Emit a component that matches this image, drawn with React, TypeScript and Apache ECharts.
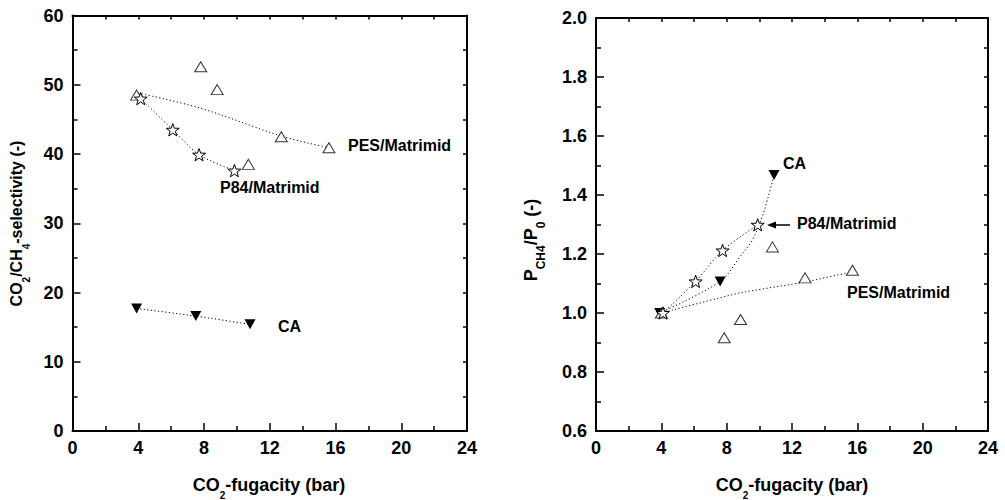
import React, { useEffect, useRef } from "react";
import * as echarts from "echarts";

// ---------- Data ----------
// Left panel: CO2/CH4 selectivity vs CO2 fugacity
const pesSelX = [3.9, 7.8, 8.8, 10.7, 12.7, 15.6];
const pesSelY = [48.5, 52.6, 49.3, 38.5, 42.5, 40.9];
const pesSelFitX = [4.0, 7.8, 12.7, 15.6];
const pesSelFitY = [48.8, 46.6, 42.6, 40.9];
const p84SelX = [4.15, 6.1, 7.7, 9.85];
const p84SelY = [48.0, 43.5, 39.9, 37.6];
const caSelX = [3.9, 7.5, 10.8];
const caSelY = [17.7, 16.6, 15.4];

// Right panel: P_CH4/P_0 vs CO2 fugacity
const pesPX = [4.0, 7.85, 8.85, 10.8, 12.8, 15.7];
const pesPY = [1.0, 0.916, 0.978, 1.224, 1.119, 1.145];
const pesPFitX = [4.0, 8.8, 12.8, 15.7];
const pesPFitY = [1.0, 1.068, 1.105, 1.14];
const p84PX = [4.1, 6.1, 7.75, 9.9];
const p84PY = [1.0, 1.107, 1.212, 1.299];
const caPX = [3.9, 7.6, 10.9];
const caPY = [1.0, 1.107, 1.468];
const caPFitX = [3.9, 7.6, 8.8, 9.6, 10.1, 10.5, 10.9];
const caPFitY = [1.0, 1.107, 1.19, 1.25, 1.315, 1.385, 1.468];

// Axis ticks
const xTicks = { min: 0, max: 24, interval: 4 };
const leftYTicks = { min: 0, max: 60, interval: 10 };
const rightYTicks = { min: 0.6, max: 2.0, interval: 0.2 };

const labelTexts = {
  pes: "PES/Matrimid",
  p84: "P84/Matrimid",
  ca: "CA",
};

const FONT = "'Liberation Sans', Arial, Helvetica, sans-serif";
const STAR =
  "path://M100,0L123.5,67.6L195.1,69.1L138,112.4L158.8,180.9L100,140L41.2,180.9L62,112.4L4.9,69.1L76.5,67.6Z";

const zip = (xs: number[], ys: number[]) => xs.map((x, i) => [x, ys[i]]);

const dotted = { color: "#000", width: 1, type: [1.2, 2.4] as any };

function mainAxis(gridIndex: number, pos: string, t: any, fmt?: (v: number) => string) {
  return {
    type: "value",
    gridIndex,
    position: pos,
    min: t.min,
    max: t.max,
    interval: t.interval,
    axisLine: { show: true, onZero: false, lineStyle: { color: "#000", width: 2 } },
    axisTick: { show: true, inside: true, length: 8, lineStyle: { color: "#000", width: 1.5 } },
    minorTick: { show: true, splitNumber: 2, length: 5, lineStyle: { color: "#000", width: 1.5 } },
    axisLabel: {
      show: true,
      margin: pos === "bottom" ? 8 : 9,
      color: "#000",
      fontSize: 18,
      fontWeight: "bold",
      fontFamily: FONT,
      formatter: fmt,
    },
    splitLine: { show: false },
  };
}

function borderAxis(gridIndex: number, pos: string, min: number, max: number, interval: number) {
  return {
    type: "value",
    gridIndex,
    position: pos,
    min,
    max,
    interval,
    axisLine: { show: true, onZero: false, lineStyle: { color: "#000", width: 2 } },
    axisTick: { show: true, inside: true, length: 4, lineStyle: { color: "#000", width: 1.5 } },
    axisLabel: { show: false },
    splitLine: { show: false },
  };
}

const openTri = (name: string, data: number[][], xi: number, yi: number) => ({
  name,
  type: "scatter",
  xAxisIndex: xi,
  yAxisIndex: yi,
  data,
  symbol: "triangle",
  symbolSize: [12, 10],
  itemStyle: { color: "#fff", borderColor: "#000", borderWidth: 1 },
  z: 5,
});

const filledDown = (name: string, data: number[][], xi: number, yi: number, withLine: boolean) => ({
  name,
  type: "line",
  xAxisIndex: xi,
  yAxisIndex: yi,
  data,
  symbol: "triangle",
  symbolRotate: 180,
  symbolSize: [11, 10],
  showSymbol: true,
  itemStyle: { color: "#000", borderColor: "#000", borderWidth: 0 },
  lineStyle: withLine ? dotted : { width: 0, opacity: 0 },
  smooth: 0.2,
  z: 4,
});

const starLine = (name: string, data: number[][], xi: number, yi: number) => ({
  name,
  type: "line",
  xAxisIndex: xi,
  yAxisIndex: yi,
  data,
  symbol: STAR,
  symbolKeepAspect: true,
  symbolSize: 13,
  showSymbol: true,
  itemStyle: { color: "#fff", borderColor: "#000", borderWidth: 1 },
  lineStyle: dotted,
  smooth: 0.3,
  z: 6,
});

const fitLine = (name: string, data: number[][], xi: number, yi: number, smooth: number) => ({
  name,
  type: "line",
  xAxisIndex: xi,
  yAxisIndex: yi,
  data,
  showSymbol: false,
  symbol: "none",
  lineStyle: dotted,
  smooth,
  z: 2,
});

function titleText(
  text: string,
  x: number,
  y: number,
  size: number,
  subSize: number,
  lh: number,
  rot: number
) {
  return {
    type: "text",
    x,
    y,
    rotation: rot,
    silent: true,
    style: {
      text,
      rich: {
        m: {
          fontSize: size,
          fontWeight: "bold",
          fontFamily: FONT,
          lineHeight: lh,
          verticalAlign: "top",
          fill: "#000",
        },
        s: {
          fontSize: subSize,
          fontWeight: "bold",
          fontFamily: FONT,
          verticalAlign: "bottom",
          fill: "#000",
        },
      },
      align: "center",
      verticalAlign: "middle",
      fill: "#000",
    },
  };
}

function label(text: string, x: number, y: number) {
  return {
    type: "text",
    x,
    y,
    silent: true,
    style: {
      text,
      fontSize: 16,
      fontWeight: "bold",
      fontFamily: FONT,
      fill: "#000",
      align: "left",
      verticalAlign: "middle",
    },
  };
}

const option: any = {
  animation: false,
  backgroundColor: "#fff",
  grid: [
    { left: 72.5, right: 538, top: 15.5, bottom: 69, containLabel: false },
    { left: 596, right: 17, top: 18, bottom: 69, containLabel: false },
  ],
  xAxis: [
    mainAxis(0, "bottom", xTicks),
    borderAxis(0, "top", xTicks.min, xTicks.max, xTicks.interval / 2),
    mainAxis(1, "bottom", xTicks),
    borderAxis(1, "top", xTicks.min, xTicks.max, xTicks.interval / 2),
  ],
  yAxis: [
    mainAxis(0, "left", leftYTicks),
    borderAxis(0, "right", leftYTicks.min, leftYTicks.max, leftYTicks.interval / 2),
    mainAxis(1, "left", rightYTicks, (v: number) => v.toFixed(1)),
    borderAxis(1, "right", rightYTicks.min, rightYTicks.max, 0.1),
  ],
  series: [
    // left panel
    fitLine("PES fit (selectivity)", zip(pesSelFitX, pesSelFitY), 0, 0, 0.35),
    openTri("PES/Matrimid (selectivity)", zip(pesSelX, pesSelY), 0, 0),
    starLine("P84/Matrimid (selectivity)", zip(p84SelX, p84SelY), 0, 0),
    filledDown("CA (selectivity)", zip(caSelX, caSelY), 0, 0, true),
    // right panel
    fitLine("PES fit (P)", zip(pesPFitX, pesPFitY), 2, 2, 0.15),
    fitLine("CA fit (P)", zip(caPFitX, caPFitY), 2, 2, 0.35),
    openTri("PES/Matrimid (P)", zip(pesPX, pesPY), 2, 2),
    filledDown("CA (P)", zip(caPX, caPY), 2, 2, false),
    starLine("P84/Matrimid (P)", zip(p84PX, p84PY), 2, 2),
  ],
  graphic: [
    titleText("{m|CO}{s|2}{m|-fugacity (bar)}", 269, 488, 18, 10, 24, 0),
    titleText("{m|CO}{s|2}{m|-fugacity (bar)}", 792, 488, 18, 10, 24, 0),
    titleText("{m|CO}{s|2}{m|/CH}{s|4}{m|-selectivity (-)}", 20, 223.5, 16, 10, 22.5, Math.PI / 2),
    titleText("{m|P}{s|CH4}{m|/P}{s|0}{m| (-)}", 534.5, 240, 18, 12, 25, Math.PI / 2),
    label(labelTexts.pes, 348, 145),
    label(labelTexts.p84, 220, 187),
    label(labelTexts.ca, 278, 326),
    label(labelTexts.ca, 783, 163),
    label(labelTexts.p84, 797, 223),
    label(labelTexts.pes, 847, 292),
    {
      type: "line",
      silent: true,
      shape: { x1: 773, y1: 225, x2: 790, y2: 225 },
      style: { stroke: "#000", lineWidth: 1.5 },
    },
    {
      type: "polygon",
      silent: true,
      shape: { points: [[767, 225], [776, 221.5], [776, 228.5]] },
      style: { fill: "#000" },
    },
  ],
};

export default function App() {
  const ref = useRef<HTMLDivElement>(null);
  useEffect(() => {
    const chart = echarts.init(ref.current!, null, { renderer: "svg" });
    chart.setOption(option);
    return () => chart.dispose();
  }, []);
  return (
    <div
      ref={ref}
      style={{ position: "fixed", left: 0, top: 0, width: 1005, height: 500, background: "#fff" }}
    />
  );
}
